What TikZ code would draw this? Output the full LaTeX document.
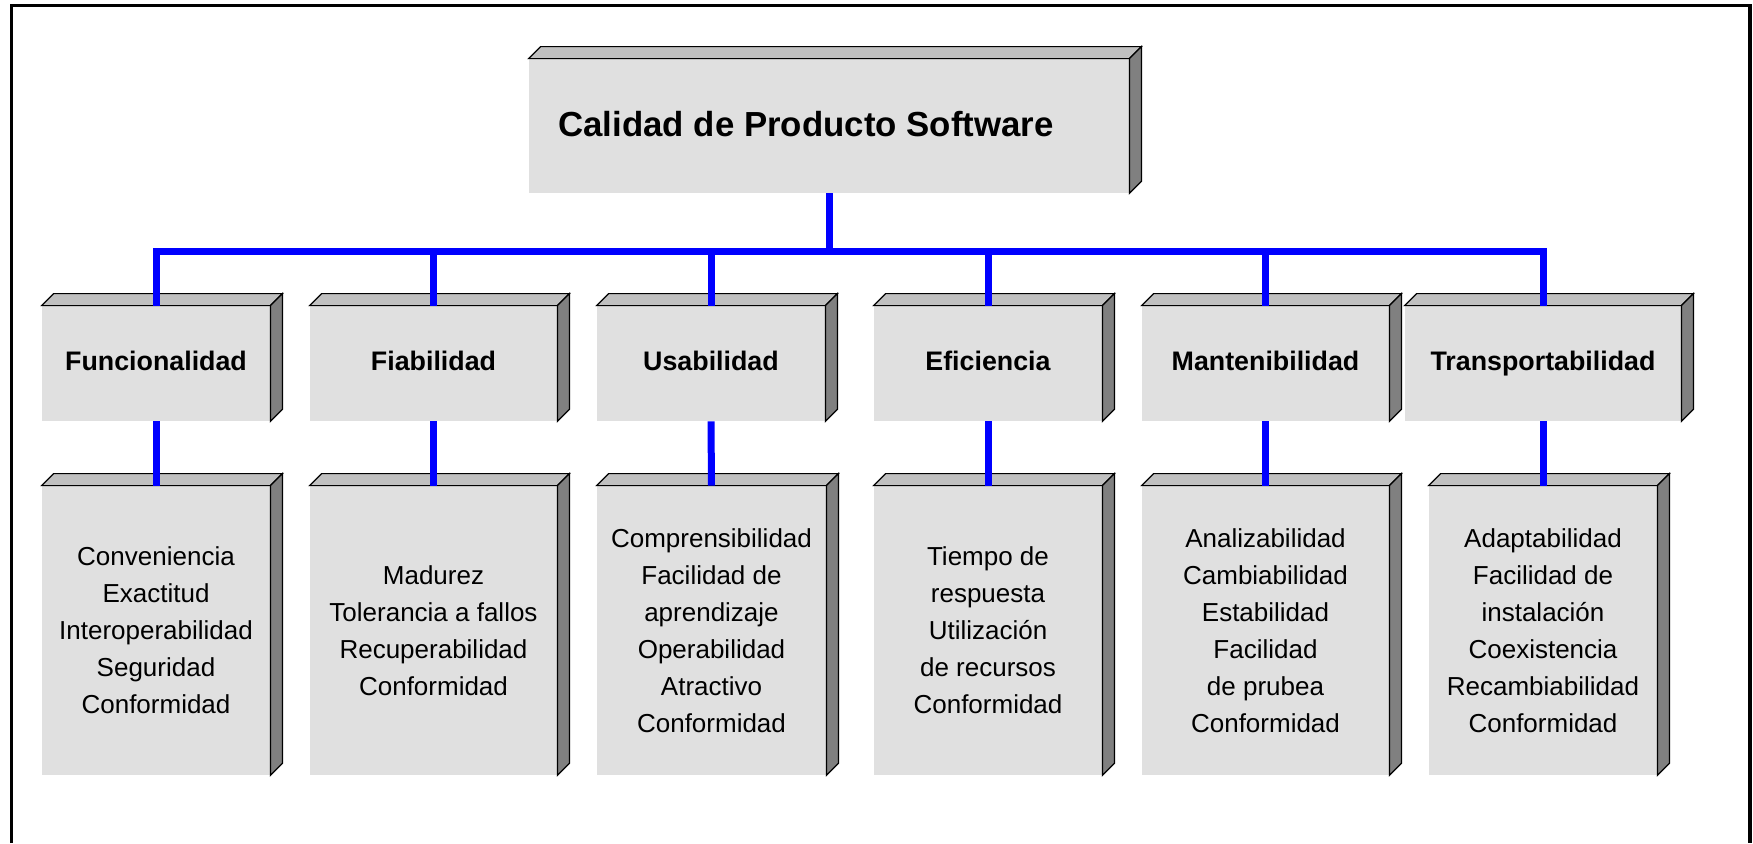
\documentclass[tikz,border=0pt]{standalone}
\usepackage{fontspec}
\setmainfont{Liberation Sans}
\definecolor{frontgray}{HTML}{E0E0E0}
\definecolor{topgray}{HTML}{C0C0C0}
\definecolor{sidegray}{HTML}{808080}
\definecolor{connblue}{HTML}{0000FF}
\tikzset{
  cubefront/.style={fill=frontgray, draw=none, inner sep=0pt, align=center},
  topface/.style={fill=topgray, draw=black, line width=0.6pt, line join=miter},
  sideface/.style={fill=sidegray, draw=black, line width=0.6pt, line join=miter},
  conn/.style={draw=connblue, line width=3.5pt, line join=miter},
  framestyle/.style={draw=black, line width=1.6pt},
  lvltwo/.style={font=\fontsize{13.4pt}{16pt}\selectfont\bfseries},
  lvlthree/.style={font=\fontsize{13pt}{18.5pt}\selectfont},
  titlefont/.style={font=\fontsize{17.4pt}{20pt}\selectfont\bfseries}
}
\newcommand\cubebox[7]{%
  \node[cubefront,#7, minimum width={(#4-#2)*0.5pt}, minimum height={(#5-#3)*0.5pt}]
     (#1) at ({(#2+#4)/2},{(#3+#5)/2}) {#6};
  \filldraw[topface] (#1.north west) -- ++(6pt,6pt) -- ([shift={(6pt,6pt)}]#1.north east) -- (#1.north east) -- cycle;
  \filldraw[sideface] (#1.north east) -- ++(6pt,6pt) -- ([shift={(6pt,6pt)}]#1.south east) -- (#1.south east) -- cycle;
}
\begin{document}
\begin{tikzpicture}[x=0.5pt,y=-0.5pt]
\useasboundingbox[fill=white] (0,0) rectangle (1753,843);
\draw[framestyle] (11.5,843) -- (11.5,5.7) -- (1750,5.7) -- (1750,843);

% top box
\cubebox{top}{529}{59}{1129}{193}{\raisebox{2pt}{Calidad de Producto Software}\hspace*{23pt}}{titlefont}

% level two
\cubebox{f2}{42}{306}{270}{421}{Funcionalidad\vphantom{p}}{lvltwo}
\cubebox{r2}{310}{306}{557}{421}{Fiabilidad\vphantom{p}}{lvltwo}
\cubebox{u2}{597}{306}{825}{421}{Usabilidad\vphantom{p}}{lvltwo}
\cubebox{e2}{874}{306}{1102}{421}{Eficiencia\vphantom{p}}{lvltwo}
\cubebox{m2}{1142}{306}{1389}{421}{Mantenibilidad\vphantom{p}}{lvltwo}
\cubebox{t2}{1405}{306}{1681}{421}{Transportabilidad}{lvltwo}

% level three
\cubebox{f3}{42}{486}{270}{775}{Conveniencia\\Exactitud\\Interoperabilidad\\Seguridad\\Conformidad}{lvlthree}
\cubebox{r3}{310}{486}{557}{775}{Madurez\\Tolerancia a fallos\\Recuperabilidad\\Conformidad}{lvlthree}
\cubebox{u3}{597}{486}{826}{775}{Comprensibilidad\\Facilidad de\hspace*{3.5pt}\\aprendizaje\\Operabilidad\\Atractivo\\Conformidad}{lvlthree}
\cubebox{e3}{874}{486}{1102}{775}{Tiempo de\\respuesta\\Utilización\\de recursos\\Conformidad}{lvlthree}
\cubebox{m3}{1142}{486}{1389}{775}{Analizabilidad\\Cambiabilidad\\Estabilidad\\Facilidad\\de prubea\\Conformidad}{lvlthree}
\cubebox{t3}{1429}{486}{1657}{775}{Adaptabilidad\\Facilidad de\hspace*{3.5pt}\\instalación\\Coexistencia\\Recambiabilidad\\Conformidad}{lvlthree}

% connectors
\coordinate (j0) at (829,251);
\draw[conn] (top.south) -- (j0);
\foreach \n in {f,r,u,e,m,t}{
  \draw[conn] (j0) -| (\n2.north);
  \draw[conn] (\n2.south) -- (\n3.north);
}
\end{tikzpicture}
\end{document}
